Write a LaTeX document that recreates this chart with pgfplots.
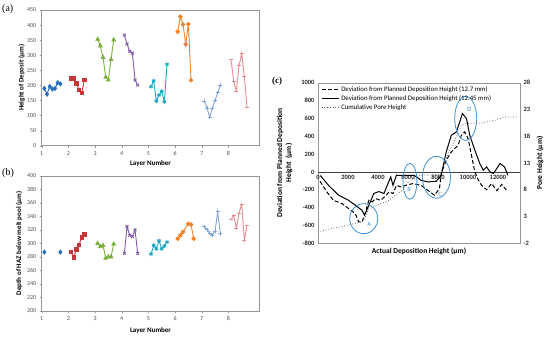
\documentclass[border=0pt]{standalone}
\usepackage{pgfplots}
\pgfplotsset{compat=1.18}
\usepackage{fontspec}
\setmainfont{Carlito}
\newfontfamily\panelfont{Liberation Serif}

\definecolor{c1}{RGB}{40,110,185}
\definecolor{c2}{RGB}{200,55,55}
\definecolor{c3}{RGB}{125,175,60}
\definecolor{c4}{RGB}{128,90,165}
\definecolor{c5}{RGB}{30,165,195}
\definecolor{c6}{RGB}{245,130,40}
\definecolor{c7}{RGB}{130,165,215}
\definecolor{c8}{RGB}{230,140,145}
\definecolor{axisgray}{RGB}{150,150,150}
\definecolor{labelgray}{RGB}{80,80,80}
\definecolor{circ}{RGB}{60,145,215}

\pgfplotsset{
  small panel/.style={
    scale only axis, width=217.6pt,
    xmin=1, xmax=9.16, xtick={1,...,8},
    axis line style={draw=axisgray},
    tick align=outside, major tick length=2pt, tick style={axisgray},
    xtick pos=lower, ytick pos=left,
    ticklabel style={font=\fontsize{6}{7}\selectfont, text=labelgray},
    /pgf/number format/assume math mode=true,
    label style={font=\bfseries\fontsize{7}{8}\selectfont},
    xlabel={Layer Number},
    every axis plot/.append style={line width=0.9pt, mark options={solid}},
  },
  s1/.style={c1, mark=diamond*, mark size=2pt},
  s2/.style={c2, mark=square*, mark size=1.7pt},
  s3/.style={c3, mark=triangle*, mark size=2pt},
  s4/.style={c4, mark=x, mark size=2pt},
  s5/.style={c5, mark=asterisk, mark size=2pt},
  s6/.style={c6, mark=*, mark size=1.8pt},
  s7/.style={c7, mark=+, mark size=2pt},
  s8/.style={c8, mark=-, mark size=2pt},
}

\begin{document}
\begin{tikzpicture}
\useasboundingbox (0,0) rectangle (550pt,338pt);

% ---------------- panel (a)
\begin{axis}[small panel,
  at={(41.7pt,192.3pt)}, anchor=south west, height=135.7pt,
  ymin=0, ymax=450, ytick={0,50,...,450},
  ylabel={Height of Deposit (µm)},
  ylabel style={at={(axis description cs:-0.092,0.5)}, anchor=center},
  xlabel style={at={(axis description cs:0.5,-0.135)}, anchor=center},
]
\addplot[s1] coordinates {(1.1,190)(1.2,171)(1.3,196)(1.4,188)(1.5,190)(1.6,209)(1.7,205)};
\addplot[s2] coordinates {(2.1,223)(2.2,223)(2.3,207)(2.4,185)(2.5,174)(2.6,218)};
\addplot[s3] coordinates {(3.1,353)(3.2,331)(3.3,293)(3.4,227)(3.5,218)(3.6,286)(3.7,351)};
\addplot[s4] coordinates {(4.1,367)(4.2,337)(4.3,313)(4.4,307)(4.5,218)(4.6,201)};
\addplot[s5] coordinates {(5.1,196)(5.2,215)(5.3,148)(5.4,168)(5.5,180)(5.6,146)(5.7,270)};
\addplot[s6] coordinates {(6.1,378)(6.2,428)(6.3,402)(6.4,336)(6.5,403)(6.6,217)};
\addplot[s7] coordinates {(7.1,148)(7.2,125)(7.3,94)(7.4,125)(7.5,150)(7.6,175)(7.7,201)};
\addplot[s8] coordinates {(8.1,287)(8.2,213)(8.3,181)(8.4,265)(8.5,306)(8.6,229)(8.7,126)};
\end{axis}

% ---------------- panel (b)
\begin{axis}[small panel,
  at={(41.7pt,27.3pt)}, anchor=south west, height=134.7pt,
  ymin=200, ymax=400, ytick={200,220,...,400},
  ylabel={Depth of HAZ below melt pool (µm)},
  ylabel style={at={(axis description cs:-0.104,0.5)}, anchor=center},
  xlabel style={at={(axis description cs:0.5,-0.148)}, anchor=center},
]
\addplot[s1, only marks] coordinates {(1.1,287)(1.7,287)};
\addplot[s2] coordinates {(2.1,287)(2.2,279)(2.3,291)(2.4,298)(2.5,309)(2.6,313)};
\addplot[s3] coordinates {(3.1,300)(3.2,295)(3.3,297)(3.4,278)(3.5,280)(3.6,280)(3.7,299)};
\addplot[s4] coordinates {(4.1,285)(4.2,325)(4.3,312)(4.4,310)(4.5,320)(4.6,285)};
\addplot[s5] coordinates {(5.1,284)(5.2,297)(5.3,292)(5.4,304)(5.5,292)(5.6,296)(5.7,302)};
\addplot[s6] coordinates {(6.1,307)(6.2,312)(6.3,317)(6.5,329)(6.6,328)(6.7,307)};
\addplot[s7] coordinates {(7.1,325)(7.2,320)(7.3,315)(7.4,312)(7.5,318)(7.6,347)(7.7,314)};
\addplot[s8] coordinates {(8.1,335)(8.2,342)(8.3,322)(8.4,345)(8.5,358)(8.6,305)(8.7,327)};
\end{axis}

% ---------------- panel (c) left axis
\begin{axis}[
  at={(318pt,94.7pt)}, anchor=south west, scale only axis,
  width=202pt, height=160.6pt,
  xmin=0, xmax=13470, ymin=-800, ymax=1000,
  xtick={0,2000,...,12000}, ytick={-800,-600,...,1000},
  scaled ticks=false,
  /pgf/number format/1000 sep={},
  /pgf/number format/assume math mode=true,
  axis line style={draw=axisgray},
  xtick style={draw=none}, ytick style={draw=none},
  ytick pos=left, xtick pos=lower,
  xticklabel style={yshift=71.4pt, font=\bfseries\fontsize{6.5}{7}\selectfont, text=black!85},
  yticklabel style={font=\bfseries\fontsize{6.5}{7}\selectfont, text=black!85},
  extra y ticks={0}, extra y tick labels={},
  extra y tick style={grid=major, major grid style={black!75, line width=0.6pt}},
  label style={font=\bfseries\fontsize{7.5}{9}\selectfont},
  xlabel={Actual Deposition Height (µm)},
  xlabel style={at={(axis description cs:0.5,-0.052)}, anchor=center},
  ylabel={Deviation from Planned Deposition\\Height\ \ (µm)},
  ylabel style={at={(axis description cs:-0.165,0.5)}, anchor=center, align=center},
]
\addplot[black, line width=1pt, dash pattern=on 4pt off 2.2pt] coordinates {
(135,-105)(590,-224)(1030,-318)(1600,-355)(2040,-411)(2490,-467)(2715,-560)(2940,-560)
(3165,-448)(3390,-318)(3615,-336)(3840,-299)(4175,-318)(4510,-269)(4735,-224)(5000,-242)
(5230,-150)(5520,-168)(5860,-150)(6310,-131)(6870,-150)(7320,-205)(7765,-261)(8100,-187)
(8215,-18)(8550,131)(8890,224)(9340,299)(9560,411)(9785,448)(10010,374)(10235,187)
(10460,0)(10690,-90)(10910,-150)(11245,-200)(11580,-130)(11920,-210)(12255,-140)(12590,-210)};
\addplot[black, line width=1pt] coordinates {
(150,-40)(700,-150)(1370,-260)(2040,-318)(2490,-374)(2940,-430)(3100,-486)(3390,-374)
(3720,-242)(4060,-220)(4400,-242)(4620,-150)(4850,-56)(5000,-150)(5230,-37)(5600,-40)
(6000,-40)(6420,-40)(6870,-93)(7320,-112)(7880,-105)(8215,-37)(8550,224)(8890,411)
(9225,448)(9450,560)(9630,654)(9900,598)(10120,411)(10460,243)(10790,94)(11020,19)
(11245,56)(11470,0)(11700,-18)(12140,94)(12440,56)(12660,-37)};
\begin{scope}[circ, line width=0.8pt]
\draw (axis cs:3050,-524) ellipse [x radius=14pt, y radius=15pt];
\draw (axis cs:6130,-105) ellipse [x radius=7pt, y radius=18pt];
\draw (axis cs:7900,-60) ellipse [x radius=14pt, y radius=21pt];
\draw (axis cs:9850,600) ellipse [x radius=11pt, y radius=22pt];
\node[font=\fontsize{6.5}{7}\selectfont] at (axis cs:3410,-590) {A};
\node[font=\fontsize{6.5}{7}\selectfont] at (axis cs:6080,-200) {B};
\node[font=\fontsize{6.5}{7}\selectfont] at (axis cs:8150,-250) {C};
\node[font=\fontsize{6.5}{7}\selectfont] at (axis cs:10100,700) {D};
\end{scope}
\end{axis}

% ---------------- panel (c) right axis
\begin{axis}[
  at={(318pt,94.7pt)}, anchor=south west, scale only axis,
  width=202pt, height=160.6pt,
  xmin=0, xmax=13470, ymin=-2, ymax=28,
  ytick={-2,3,...,28},
  axis x line=none, axis y line*=right,
  axis line style={draw=axisgray},
  ytick style={draw=none},
  /pgf/number format/assume math mode=true,
  yticklabel style={font=\bfseries\fontsize{6.5}{7}\selectfont, text=black!85},
  label style={font=\bfseries\fontsize{7.5}{9}\selectfont},
  ylabel={Pore Height (µm)},
  ylabel style={at={(axis description cs:1.099,0.5)}, anchor=center},
  legend style={draw=none, fill=none, at={(axis description cs:0.01,0.995)}, anchor=north west,
    font=\fontsize{6.8}{8}\selectfont, row sep=-1.5pt, inner sep=1pt},
  legend cell align=left,
]
\addlegendimage{black, line width=1pt, dash pattern=on 4pt off 2.2pt}
\addlegendentry{Deviation from Planned Deposition Height (12.7 mm)}
\addlegendimage{black, line width=1pt}
\addlegendentry{Deviation from Planned Deposition Height (12.45 mm)}
\addplot[black!70, line width=0.7pt, dotted] coordinates {
(0,0.1)(920,0.77)(1480,1.07)(1930,1.38)(2490,1.7)(2940,2.0)(3165,2.93)(3390,4.48)
(3720,4.8)(4175,5.42)(4735,6.03)(5185,6.98)(5636,7.92)(6080,9.58)(6530,10.4)(6870,10.72)
(7990,10.83)(8215,11.33)(8550,13.83)(8890,16.0)(9225,17.87)(9560,20.05)(9900,20.37)
(10910,20.5)(11800,21.0)(12480,21.6)(13380,21.6)};
\addlegendentry{Cumulative Pore Height}
\end{axis}

\node[anchor=north west, font=\panelfont\fontsize{10}{11}\selectfont, inner sep=0pt] at (2pt,334pt) {(a)};
\node[anchor=north west, font=\panelfont\fontsize{10}{11}\selectfont, inner sep=0pt] at (2pt,170pt) {(b)};
\node[anchor=north west, font=\panelfont\bfseries\fontsize{9}{10}\selectfont, inner sep=0pt] at (272pt,261pt) {(c)};
\end{tikzpicture}
\end{document}
